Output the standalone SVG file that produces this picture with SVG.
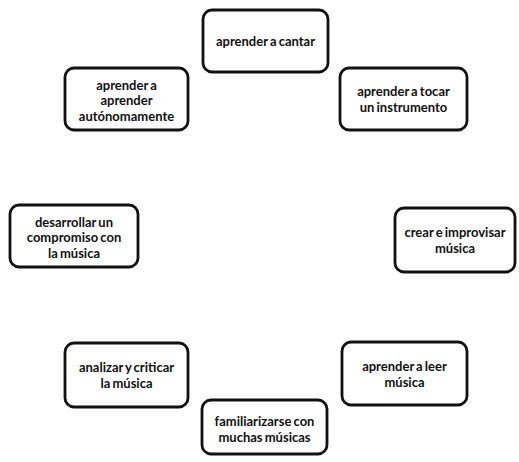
<svg xmlns="http://www.w3.org/2000/svg" width="519" height="462" viewBox="0 0 519 462">
<style>
.box{fill:#fff;stroke:#111;stroke-width:2.8}
.t{font-family:Lato,"Open Sans",sans-serif;font-weight:bold;font-size:13px;fill:#111;text-anchor:middle;word-spacing:-1px}
</style>
<rect width="519" height="462" fill="#fff"/>
<g id="connectors"></g>
<g id="n1"><rect class="box" x="203" y="10" width="125" height="62" rx="9"/><text class="t" x="265.5" y="46">aprender a cantar</text></g>
<g id="n2"><rect class="box" x="340" y="68" width="127" height="62" rx="9"/><text class="t" x="403.5" y="96">aprender a tocar</text><text class="t" x="403.5" y="111.5">un instrumento</text></g>
<g id="n3"><rect class="box" x="395" y="208" width="120" height="64" rx="9"/><text class="t" x="455" y="237">crear e improvisar</text><text class="t" x="455" y="252.5">música</text></g>
<g id="n4"><rect class="box" x="342" y="342" width="125" height="63" rx="9"/><text class="t" x="404.5" y="371">aprender a leer</text><text class="t" x="404.5" y="386.5">música</text></g>
<g id="n5"><rect class="box" x="202" y="400" width="125" height="54" rx="9"/><text class="t" x="264.5" y="426">familiarizarse con</text><text class="t" x="264.5" y="441.5">muchas músicas</text></g>
<g id="n6"><rect class="box" x="65" y="343" width="123" height="64" rx="9"/><text class="t" x="126.5" y="372">analizar y criticar</text><text class="t" x="126.5" y="387.5">la música</text></g>
<g id="n7"><rect class="box" x="10" y="205" width="128" height="62" rx="9"/><text class="t" x="74" y="226.5">desarrollar un</text><text class="t" x="74" y="242">compromiso con</text><text class="t" x="74" y="257.5">la música</text></g>
<g id="n8"><rect class="box" x="65" y="68" width="123" height="62" rx="9"/><text class="t" x="126.5" y="89.5">aprender a</text><text class="t" x="126.5" y="105">aprender</text><text class="t" x="126.5" y="120.5">autónomamente</text></g>
</svg>
